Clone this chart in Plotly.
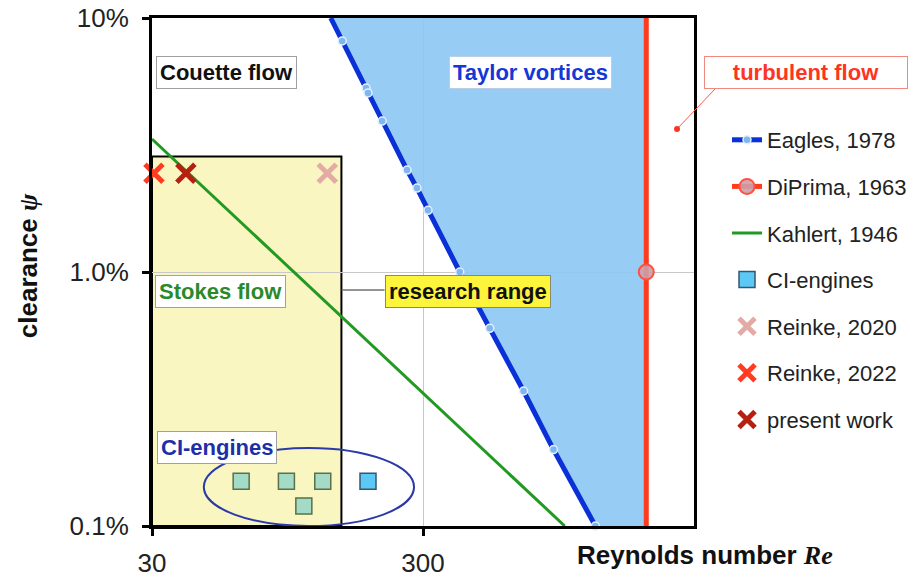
import math
import plotly.graph_objects as go

# ---------------- data ----------------
eagles_re = [137, 151, 185, 188, 212, 262, 285, 313, 410, 529, 705, 909, 1298]
eagles_psi = [10.0, 8.12, 5.30, 5.07, 3.93, 2.52, 2.14, 1.75, 1.00, 0.60, 0.34, 0.20, 0.10]

diprima_re = [2000, 2000, 2000]
diprima_psi = [0.1, 1.0, 10.0]

kahlert_re = [30, 1000]
kahlert_psi = [3.34, 0.10]

ci_re = [188, 64, 94, 128, 109]
ci_psi = [0.15, 0.15, 0.15, 0.15, 0.12]

reinke2020_re = [133]
reinke2020_psi = [2.45]
reinke2022_re = [30.5]
reinke2022_psi = [2.45]
present_re = [40]
present_psi = [2.45]

research_re = [30, 150]
research_psi = [0.1, 2.85]

x_tickvals = [30, 300]
x_ticktext = ["30", "300"]
y_tickvals = [0.1, 1.0, 10.0]
y_ticktext = ["0.1%", "1.0%", "10%"]

# ---------------- layout helpers ----------------
OFF = 8                      # page body margin of the html page
W, H = 921 - OFF, 580 - OFF  # figure size
L, R, T, B = 152, 695, 18, 526   # plot area in screenshot pixels


def PX(px):
    return (px - L) / (R - L)


def PY(py):
    return (B - py) / (B - T)


FONT = "Liberation Sans, Arial, Helvetica, sans-serif"
SERIF = "Liberation Serif, DejaVu Serif, serif"

fig = go.Figure()

# Taylor-vortex region (between Eagles curve and DiPrima line)
fig.add_trace(go.Scatter(
    x=eagles_re + [diprima_re[0], diprima_re[0]],
    y=eagles_psi + [min(diprima_psi), max(diprima_psi)],
    mode="lines", fill="toself",
    fillcolor="rgba(140,198,244,0.9)", line=dict(width=0),
    showlegend=False, hoverinfo="skip"))

fig.add_trace(go.Scatter(
    x=kahlert_re, y=kahlert_psi, mode="lines", name="Kahlert, 1946",
    legendgroup="k", legendrank=3,
    line=dict(color="#229a22", width=3)))

fig.add_trace(go.Scatter(
    x=eagles_re, y=eagles_psi, mode="lines+markers", name="Eagles, 1978",
    legendgroup="e", legendrank=1, cliponaxis=False,
    line=dict(color="#0a30d8", width=5),
    marker=dict(size=8, color="#7fb6f0", line=dict(color="#e2efff", width=1.5)),
    selectedpoints=list(range(1, len(eagles_re))),
    unselected=dict(marker=dict(opacity=0)),
    selected=dict(marker=dict(opacity=1))))

fig.add_trace(go.Scatter(
    x=diprima_re, y=diprima_psi, mode="lines+markers", name="DiPrima, 1963",
    legendgroup="d", legendrank=2, cliponaxis=False,
    line=dict(color="#ff3b1f", width=5),
    marker=dict(size=15, color="rgba(205,160,170,0.9)", line=dict(color="#ff5040", width=2)),
    selectedpoints=[1],
    unselected=dict(marker=dict(opacity=0)),
    selected=dict(marker=dict(opacity=1))))

ci_fill = ["#a3dbc6" if r < research_re[1] else "#5cc8f6" for r in ci_re]
ci_edge = ["#5a7048" if r < research_re[1] else "#34566e" for r in ci_re]
fig.add_trace(go.Scatter(
    x=ci_re, y=ci_psi, mode="markers", name="CI-engines",
    legendgroup="c", legendrank=4,
    marker=dict(symbol="square", size=16, color=ci_fill,
                line=dict(color=ci_edge, width=1.5))))

for name, xs, ys, col, rank in [
        ("Reinke, 2020", reinke2020_re, reinke2020_psi, "#e4aaa6", 5),
        ("Reinke, 2022", reinke2022_re, reinke2022_psi, "#ff3b22", 6),
        ("present work", present_re, present_psi, "#b52010", 7)]:
    fig.add_trace(go.Scatter(
        x=xs, y=ys, mode="markers", name=name, legendgroup=name,
        legendrank=rank, cliponaxis=False,
        marker=dict(symbol="x-thin", size=18, color=col,
                    line=dict(color=col, width=5))))

shapes = [
    dict(type="rect", xref="x", yref="y",
         x0=research_re[0], x1=research_re[1], y0=research_psi[0], y1=research_psi[1],
         fillcolor="#faf6c2", line=dict(color="black", width=2), layer="below"),
    dict(type="circle", xref="x", yref="y",
         x0=46.6, x1=278, y0=0.1, y1=0.203,
         line=dict(color="#2b3aa8", width=2), layer="below"),
    dict(type="line", xref="paper", yref="paper",
         x0=PX(342), x1=PX(385), y0=PY(290), y1=PY(290),
         line=dict(color="#707070", width=1.5)),
    dict(type="line", xref="paper", yref="paper",
         x0=PX(717), x1=PX(678), y0=PY(88), y1=PY(129),
         line=dict(color="#ff5a4a", width=1)),
    dict(type="circle", xref="paper", yref="paper",
         x0=PX(675), x1=PX(681), y0=PY(132), y1=PY(126),
         fillcolor="#ff3322", line=dict(color="#ff3322", width=0)),
]


def box(text, cx, cy, color, bg="white", border="#a0a0a0", width=None):
    d = dict(text="<b>%s</b>" % text, xref="paper", yref="paper",
             x=PX(cx), y=PY(cy), xanchor="center", yanchor="middle",
             showarrow=False, font=dict(family=FONT, size=22, color=color),
             bgcolor=bg, bordercolor=border, borderwidth=1, borderpad=3)
    if width:
        d["width"] = width
    return d


annotations = [
    box("Couette flow", 227, 72, "#111111"),
    box("Taylor vortices", 531, 72, "#1437d6", border="#b8cde6"),
    box("turbulent flow", 807, 72, "#ff3322", border="#f08a80", width=196),
    box("Stokes flow", 221, 292, "#2a8a2a"),
    box("research range", 469, 292, "#111111", bg="#fcf53c", border="#8a8a6a"),
    box("CI-engines", 217, 447, "#1d2fa8"),
    dict(text="<b>Reynolds number </b><b><i><span style='font-family:%s'>Re</span></i></b>" % SERIF,
         xref="paper", yref="paper", x=PX(706), y=PY(555), xanchor="center", yanchor="middle",
         showarrow=False, font=dict(family=FONT, size=26, color="#111111")),
    dict(text="<b>clearance </b><b><i><span style='font-family:%s'>ψ</span></i></b>" % SERIF,
         xref="paper", yref="paper", x=PX(28), y=PY(266), xanchor="center", yanchor="middle",
         textangle=-90, showarrow=False, font=dict(family=FONT, size=26, color="#111111")),
]

axis_common = dict(
    type="log", showline=True, linewidth=3, linecolor="black", mirror=True,
    ticks="outside", ticklen=7, tickwidth=3, tickcolor="black",
    showgrid=True, gridcolor="#c8c8c8", gridwidth=1, zeroline=False,
    automargin=False, ticklabeloverflow="allow",
    tickfont=dict(family=FONT, size=26, color="#222222"),
)

fig.update_layout(
    width=W, height=H, autosize=False,
    margin=dict(l=L - OFF, r=W - (R - OFF), t=T - OFF, b=H - (B - OFF), pad=0),
    paper_bgcolor="white", plot_bgcolor="white",
    xaxis=dict(range=[math.log10(30), math.log10(3000)], tickvals=x_tickvals,
               ticktext=x_ticktext, ticklabelstandoff=5, **axis_common),
    yaxis=dict(range=[-1, 1], tickvals=y_tickvals, ticktext=y_ticktext,
               ticklabelstandoff=8, **axis_common),
    legend=dict(x=PX(727), xanchor="left", y=PY(119), yanchor="top",
                font=dict(family=FONT, size=22, color="#222222"),
                tracegroupgap=15, bgcolor="rgba(0,0,0,0)", itemwidth=30),
    shapes=shapes, annotations=annotations,
    showlegend=True,
)

fig.write_html("out.html")
